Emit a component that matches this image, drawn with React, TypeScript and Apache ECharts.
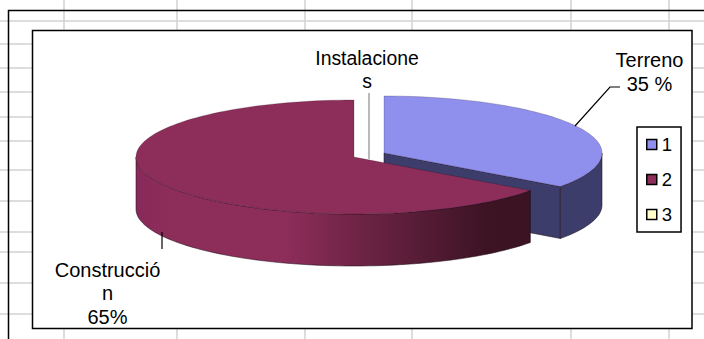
import React, { useEffect, useRef } from "react";
import * as echarts from "echarts";

// Cost breakdown of the property
const sliceNames = ["1", "2", "3"];
const sliceValues = [35, 65, 0];
const sliceColors = ["#8f8fee", "#8d2d5a", "#ffffcc"];
const wallColors = ["#3d3d6b", "#8d2d5a", "#ffffcc"];
const labelLines = ["Terreno\n35 %", "Construcció\nn\n65%", "Instalacione\ns"];

// Spreadsheet cells showing around the chart
const gridColumns = [64, 177, 305, 412, 571, 669];
const gridRows = [21, 44, 68, 92, 117, 141, 170, 201, 232, 252, 283, 314];

const RX = 218;
const RY = 57;
const DEPTH = 52;
const centers: [number, number][] = [
  [384, 153],
  [354, 157],
  [369, 157],
];

const total = sliceValues.reduce((a, b) => a + b, 0);

// Point on a slice's rim; the angle runs clockwise from twelve o'clock, as a fraction of a turn.
function rim(c: [number, number], frac: number, drop = 0): number[] {
  const a = frac * Math.PI * 2;
  return [c[0] + RX * Math.sin(a), c[1] - RY * Math.cos(a) + drop];
}

function arc(c: [number, number], from: number, to: number, drop = 0): number[][] {
  const steps = Math.max(2, Math.ceil(Math.abs(to - from) * 180));
  const pts: number[][] = [];
  for (let i = 0; i <= steps; i++) pts.push(rim(c, from + ((to - from) * i) / steps, drop));
  return pts;
}

const edge = { stroke: "rgba(25,8,20,0.65)", lineWidth: 0.8 };

function renderSlice(params: any, api: any) {
  const i = params.seriesIndex as number;
  const from = api.value(0) as number;
  const to = api.value(1) as number;
  if (to <= from) return { type: "group", children: [] };
  const c = centers[i];
  const children: any[] = [];

  // Outer wall: only the part of the rim on the viewer's side
  const wallFrom = Math.max(from, 0.25);
  const wallTo = Math.min(to, 0.75);
  const wallFill =
    i === 1
      ? new echarts.graphic.LinearGradient(
          c[0] - RX,
          0,
          rim(c, from)[0],
          0,
          [
            { offset: 0, color: "#87295a" },
            { offset: 0.08, color: "#8d2d5a" },
            { offset: 0.38, color: "#8d2d5a" },
            { offset: 0.56, color: "#6f2446" },
            { offset: 0.9, color: "#3b1323" },
            { offset: 1, color: "#3b1323" },
          ],
          true,
        )
      : wallColors[i];

  if (i === 0) {
    // Cut face of the pulled-out slice, seen at its closing radius
    children.push({
      type: "polygon",
      shape: { points: [c, rim(c, to), rim(c, to, DEPTH), [c[0], c[1] + DEPTH]] },
      style: { fill: wallColors[i], ...edge },
    });
  }
  if (wallTo > wallFrom) {
    children.push({
      type: "polygon",
      shape: { points: [...arc(c, wallFrom, wallTo), ...arc(c, wallTo, wallFrom, DEPTH)] },
      style: { fill: wallFill, ...edge },
    });
  }
  children.push({
    type: "polygon",
    shape: { points: [c, ...arc(c, from, to)] },
    style: { fill: sliceColors[i], stroke: "rgba(25,8,20,0.35)", lineWidth: 0.6 },
  });
  return { type: "group", children };
}

let running = 0;
const sliceSpans = sliceValues.map((v) => {
  const span = [running / total, (running + v) / total];
  running += v;
  return span;
});

export default function App() {
  const ref = useRef<HTMLDivElement>(null);
  useEffect(() => {
    const chart = echarts.init(ref.current!, undefined, { renderer: "svg" });
    const hLine = (y: number, x1: number, x2: number) => ({
      type: "line",
      z: -5,
      shape: { x1, y1: y, x2, y2: y },
      style: { stroke: "#d2d2d2", lineWidth: 1.5 },
    });
    const vLine = (x: number, y1: number, y2: number) => ({
      type: "line",
      z: -5,
      shape: { x1: x, y1, x2: x, y2 },
      style: { stroke: "#d2d2d2", lineWidth: 1.5 },
    });
    const leader = (points: number[][], stroke = "#000") => ({
      type: "polyline",
      z: 8,
      shape: { points },
      style: { stroke, fill: "none", lineWidth: 1.2 },
    });
    const label = (text: string, x: number, y: number, size: number, lineHeight: number) => ({
      type: "text",
      z: 10,
      x,
      y,
      style: {
        text,
        fill: "#000",
        font: `${size}px 'Liberation Sans', Arial, sans-serif`,
        lineHeight,
        align: "center",
        verticalAlign: "top",
      },
    });
    chart.setOption({
      animation: false,
      backgroundColor: "#fff",
      graphic: {
        elements: [
          ...gridRows.flatMap((y) =>
            y < 30 ? [hLine(y, 0, 704)] : [hLine(y, 0, 32), hLine(y, 692, 704)],
          ),
          ...gridColumns.flatMap((x) => [vLine(x, 0, 30), vLine(x, 329, 339)]),
          {
            type: "polyline",
            z: -4,
            shape: { points: [[8.5, 339], [8.5, 10.5], [704, 10.5]] },
            style: { stroke: "#000", fill: "none", lineWidth: 1.5 },
          },
          {
            type: "rect",
            z: -3,
            shape: { x: 32.5, y: 30.5, width: 659.5, height: 298 },
            style: { fill: "#fff", stroke: "#000", lineWidth: 1.5 },
          },
          leader([[575, 126], [610, 87], [620, 87]]),
          leader([[162, 232], [162, 249]]),
          leader([[369, 93], [369, 159]], "#8c8c8c"),
          label(labelLines[0], 649.5, 47.5, 20, 24),
          label(labelLines[1], 107.5, 258, 20, 23.5),
          label(labelLines[2], 367, 46, 19.4, 23),
        ],
      },
      legend: {
        orient: "vertical",
        left: 637,
        top: 127,
        padding: [8, 9, 8, 9],
        itemGap: 16,
        itemWidth: 10,
        itemHeight: 10,
        borderColor: "#000",
        borderWidth: 1.5,
        backgroundColor: "#fff",
        icon: "rect",
        textStyle: {
          color: "#000",
          fontFamily: "'Liberation Sans', Arial, sans-serif",
          fontSize: 18.5,
          padding: [0, 0, 0, 0],
        },
        data: sliceNames.map((name, i) => ({
          name,
          itemStyle: { color: sliceColors[i], borderColor: "#000", borderWidth: 1.5 },
        })),
      },
      series: sliceNames.map((name, i) => ({
        type: "custom",
        name,
        coordinateSystem: "none",
        renderItem: renderSlice,
        itemStyle: { color: sliceColors[i] },
        data: [sliceSpans[i]],
      })),
    });
    return () => chart.dispose();
  }, []);
  return (
    <div
      ref={ref}
      style={{ position: "absolute", left: 0, top: 0, width: 704, height: 339 }}
    />
  );
}
